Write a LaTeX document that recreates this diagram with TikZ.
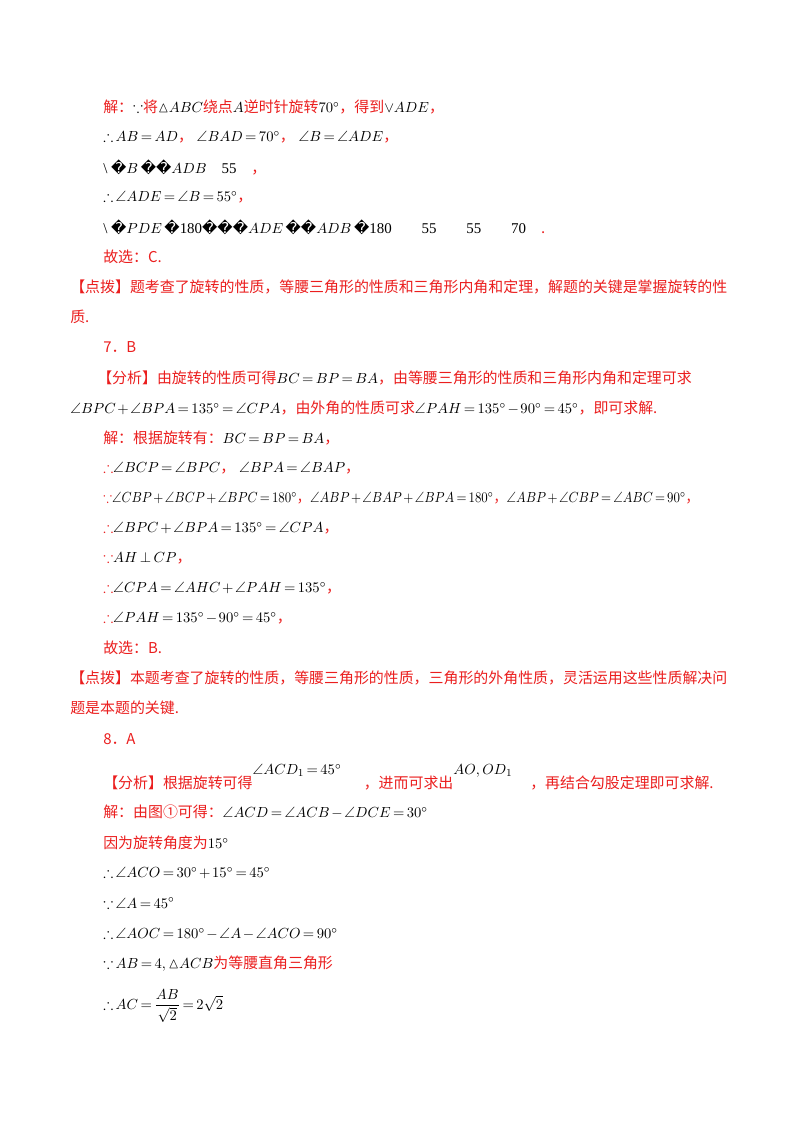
\documentclass[tikz,border=0pt]{standalone}
\usepackage{amsmath,amssymb}
\usepackage{graphicx}
\usepackage{fontspec}
\setmainfont{Liberation Serif}
\newfontfamily\cjk{Noto Sans CJK SC}
\newfontfamily\djfont{DejaVu Sans}
\definecolor{rd}{RGB}{235,30,30}
\newcommand{\R}[1]{\textcolor{rd}{\cjk #1}}
\newcommand{\Q}{{\djfont\char"FFFD}}
\thickmuskip=3mu plus 1mu
\medmuskip=2mu plus 1mu
\begin{document}
\begin{tikzpicture}[x=0.75pt,y=-0.75pt,
  tl/.style={anchor=west,inner sep=0pt,font=\fontsize{11.2}{13}\selectfont}]
\fill[white] (0,0) rectangle (800,1132);
\node[tl] (l1) at (103,107) {\R{解：}$\because$\R{将}$\vartriangle\!ABC$\R{绕点}$A$\R{逆时针旋转}$70^\circ$\R{，得到}$\vee ADE$\R{，}};
\node[tl] (l2) at (103,137) {$\therefore AB=AD$\R{，}$\ \angle BAD=70^\circ$\R{，}$\ \angle B=\angle ADE$\R{，}};
\node[tl] (l3) at (103,167) {\textbackslash\ \Q$B$\,\Q\Q$ADB$\quad 55\quad\R{，}};
\node[tl] (l4) at (103,197) {$\therefore\angle ADE=\angle B=55^\circ$\R{，}};
\node[tl] (l5) at (103,227) {\textbackslash\ \Q$PDE$\,\Q180\Q\Q\Q$ADE$\,\Q\Q$ADB$\,\Q180\qquad55\qquad55\qquad70\quad\R{.}};
\node[tl] (l6) at (103,257) {\R{故选：C.}};
\node[tl] (l7) at (70,287) {\R{【点拨】题考查了旋转的性质，等腰三角形的性质和三角形内角和定理，解题的关键是掌握旋转的性}};
\node[tl] (l8) at (70,317) {\R{质.}};
\node[tl] (l9) at (103,347) {\R{7．B}};
\node[tl] (l10) at (97,378) {\R{【分析】由旋转的性质可得}$BC=BP=BA$\R{，由等腰三角形的性质和三角形内角和定理可求}};
\node[tl] (l11) at (70,408) {$\angle BPC+\angle BPA=135^\circ=\angle CPA$\R{，由外角的性质可求}$\angle PAH=135^\circ-90^\circ=45^\circ$\R{，即可求解.}};
\node[tl] (l12) at (103,438) {\R{解：根据旋转有：}$BC=BP=BA$\R{，}};
\node[tl] (l13) at (103,468) {\textcolor{rd}{$\therefore$}$\angle BCP=\angle BPC$\R{，}$\ \angle BPA=\angle BAP$\R{，}};
\node[tl] (l14) at (103,498) {\scalebox{0.88}[1]{\textcolor{rd}{$\because$}$\angle CBP+\angle BCP+\angle BPC=180^\circ$\R{，}$\angle ABP+\angle BAP+\angle BPA=180^\circ$\R{，}$\angle ABP+\angle CBP=\angle ABC=90^\circ$\R{，}}};
\node[tl] (l15) at (103,528) {\textcolor{rd}{$\therefore$}$\angle BPC+\angle BPA=135^\circ=\angle CPA$\R{，}};
\node[tl] (l16) at (103,558) {\textcolor{rd}{$\because$}$AH\perp CP$\R{，}};
\node[tl] (l17) at (103,588) {\textcolor{rd}{$\therefore$}$\angle CPA=\angle AHC+\angle PAH=135^\circ$\R{，}};
\node[tl] (l18) at (103,618) {\textcolor{rd}{$\therefore$}$\angle PAH=135^\circ-90^\circ=45^\circ$\R{，}};
\node[tl] (l19) at (103,648) {\R{故选：B.}};
\node[tl] (l20) at (70,678) {\R{【点拨】本题考查了旋转的性质，等腰三角形的性质，三角形的外角性质，灵活运用这些性质解决问}};
\node[tl] (l21) at (70,708) {\R{题是本题的关键.}};
\node[tl] (l22) at (103,739) {\R{8．A}};
\node[tl] (l23) at (103,777) {\R{【分析】根据旋转可得}\raisebox{10pt}{$\angle ACD_1=45^\circ$}\hspace{1.5em}\R{，进而可求出}\raisebox{10pt}{$AO,OD_1$}\hspace{1.2em}\R{，再结合勾股定理即可求解.}};
\node[tl] (l24) at (103,812) {\R{解：由图①可得：}$\angle ACD=\angle ACB-\angle DCE=30^\circ$};
\node[tl] (l25) at (103,843) {\R{因为旋转角度为}$15^\circ$};
\node[tl] (l26) at (103,873) {$\therefore\angle ACO=30^\circ+15^\circ=45^\circ$};
\node[tl] (l27) at (103,903) {$\because\angle A=45^\circ$};
\node[tl] (l28) at (103,934) {$\therefore\angle AOC=180^\circ-\angle A-\angle ACO=90^\circ$};
\node[tl] (l29) at (103,964) {$\because AB=4,\vartriangle\!ACB$\R{为等腰直角三角形}};
\node[tl] (l30) at (103,1006) {$\therefore AC=\dfrac{AB}{\sqrt2}=2\sqrt2$};
\end{tikzpicture}
\end{document}
